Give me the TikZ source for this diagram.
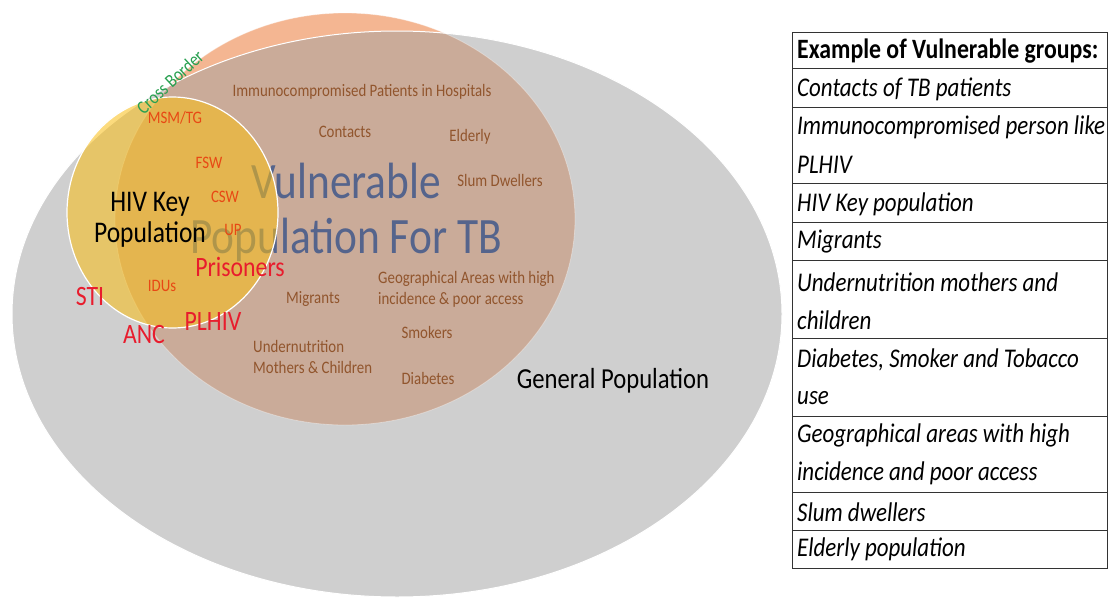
\documentclass[tikz,border=0pt]{standalone}
\usepackage{fontspec}
\setmainfont[FakeStretch=0.85]{Carlito}
\definecolor{orangefill}{RGB}{244,182,146}
\definecolor{grayfill}{RGB}{161,161,161}
\definecolor{yellowfill}{RGB}{250,190,20}
\definecolor{browntxt}{RGB}{145,85,45}
\definecolor{redtxt}{RGB}{232,28,45}
\definecolor{orangetxt}{RGB}{232,72,20}
\definecolor{greentxt}{RGB}{40,160,80}
\definecolor{bigblue}{RGB}{85,100,140}
\tikzset{
  brownlbl/.style={text=browntxt, inner sep=0pt, font=\fontsize{17.5}{21}\selectfont},
  redlbl/.style={text=redtxt, inner sep=0pt, font=\fontsize{28}{30}\selectfont},
  keylbl/.style={text=orangetxt, inner sep=0pt, font=\fontsize{17.5}{20}\selectfont},
  biglbl/.style={text=bigblue, inner sep=0pt, font=\fontsize{51}{55}\selectfont},
  tabtxt/.style={anchor=west, inner sep=0pt, font=\fontsize{27}{29}\selectfont\itshape},
  tabline/.style={draw=black!80, line width=0.9pt}
}
\begin{document}
\begin{tikzpicture}[x=1pt,y=-1pt]
\useasboundingbox (0,0) rectangle (1110,597);
\fill[white] (0,0) rectangle (1110,597);
% ellipses
\fill[orangefill] (345,219) ellipse [x radius=230pt, y radius=206pt];
\draw[white, line width=1pt, fill=grayfill, fill opacity=0.5] (397,314) ellipse [x radius=385pt, y radius=283pt];
\draw[white, draw opacity=0.35, line width=0.8pt] (345,219) ellipse [x radius=230pt, y radius=206pt];
% big text (under yellow)
\node[biglbl] (vul) at (346,181) {Vulnerable};
\node[biglbl] (pop) at (346,240) {Population For TB};
% yellow circle
\draw[white, line width=1.2pt, fill=yellowfill, fill opacity=0.55] (172.5,212.5) ellipse [x radius=105.5pt, y radius=115.5pt];
% labels
\node[text=greentxt, inner sep=0pt, rotate=43, font=\fontsize{19}{20}\selectfont] (cb) at (170,82) {Cross Border};
\node[keylbl] (msm) at (175,118) {MSM/TG};
\node[keylbl] (fsw) at (209,163) {FSW};
\node[keylbl] (csw) at (225,197) {CSW};
\node[keylbl] (up) at (233,230) {UP};
\node[keylbl] (idu) at (162,286) {IDUs};
\node[inner sep=0pt, align=center, font=\fontsize{30}{31}\selectfont] (hiv) at (150,220) {HIV Key\\Population};
\node[redlbl] (pris) at (240,267) {Prisoners};
\node[redlbl] (sti) at (90,297) {STI};
\node[redlbl] (anc) at (144,335) {ANC};
\node[redlbl] (plhiv) at (213,322) {PLHIV};
\node[brownlbl] (imm) at (362,92) {Immunocompromised Patients in Hospitals};
\node[brownlbl] (con) at (345,132) {Contacts};
\node[brownlbl] (eld) at (470,137) {Elderly};
\node[brownlbl] (slum) at (500,180) {Slum Dwellers};
\node[brownlbl, anchor=west, align=left] (geo) at (378,289) {Geographical Areas with high\\incidence \& poor access};
\node[brownlbl] (mig) at (313,299) {Migrants};
\node[brownlbl] (smk) at (427,332) {Smokers};
\node[brownlbl, anchor=west, align=left] (und) at (253,357) {Undernutrition\\Mothers \& Children};
\node[brownlbl] (dia) at (428,378) {Diabetes};
\node[inner sep=0pt, font=\fontsize{29}{31}\selectfont] (gen) at (613,381) {General Population};
% table
\draw[tabline, fill=white] (792,32) rectangle (1107,568);
\foreach \yy in {68,107,183,222,260,338,416,492,530}
  \draw[tabline] (792,\yy) -- (1107,\yy);
\node[tabtxt, font=\fontsize{28}{30}\selectfont\bfseries] (t0) at (797,51) {Example of Vulnerable groups:};
\node[tabtxt] (t1) at (797,89) {Contacts of TB patients};
\node[tabtxt] (t2a) at (797,127) {Immunocompromised person like};
\node[tabtxt] (t2b) at (797,165) {PLHIV};
\node[tabtxt] (t3) at (797,204) {HIV Key population};
\node[tabtxt] (t4) at (797,242) {Migrants};
\node[tabtxt] (t5a) at (797,282) {Undernutrition mothers and};
\node[tabtxt] (t5b) at (797,320) {children};
\node[tabtxt] (t6a) at (797,360) {Diabetes, Smoker and Tobacco};
\node[tabtxt] (t6b) at (797,398) {use};
\node[tabtxt] (t7a) at (797,435) {Geographical areas with high};
\node[tabtxt] (t7b) at (797,473) {incidence and poor access};
\node[tabtxt] (t8) at (797,512) {Slum dwellers};
\node[tabtxt] (t9) at (797,549) {Elderly population};
\end{tikzpicture}
\end{document}
